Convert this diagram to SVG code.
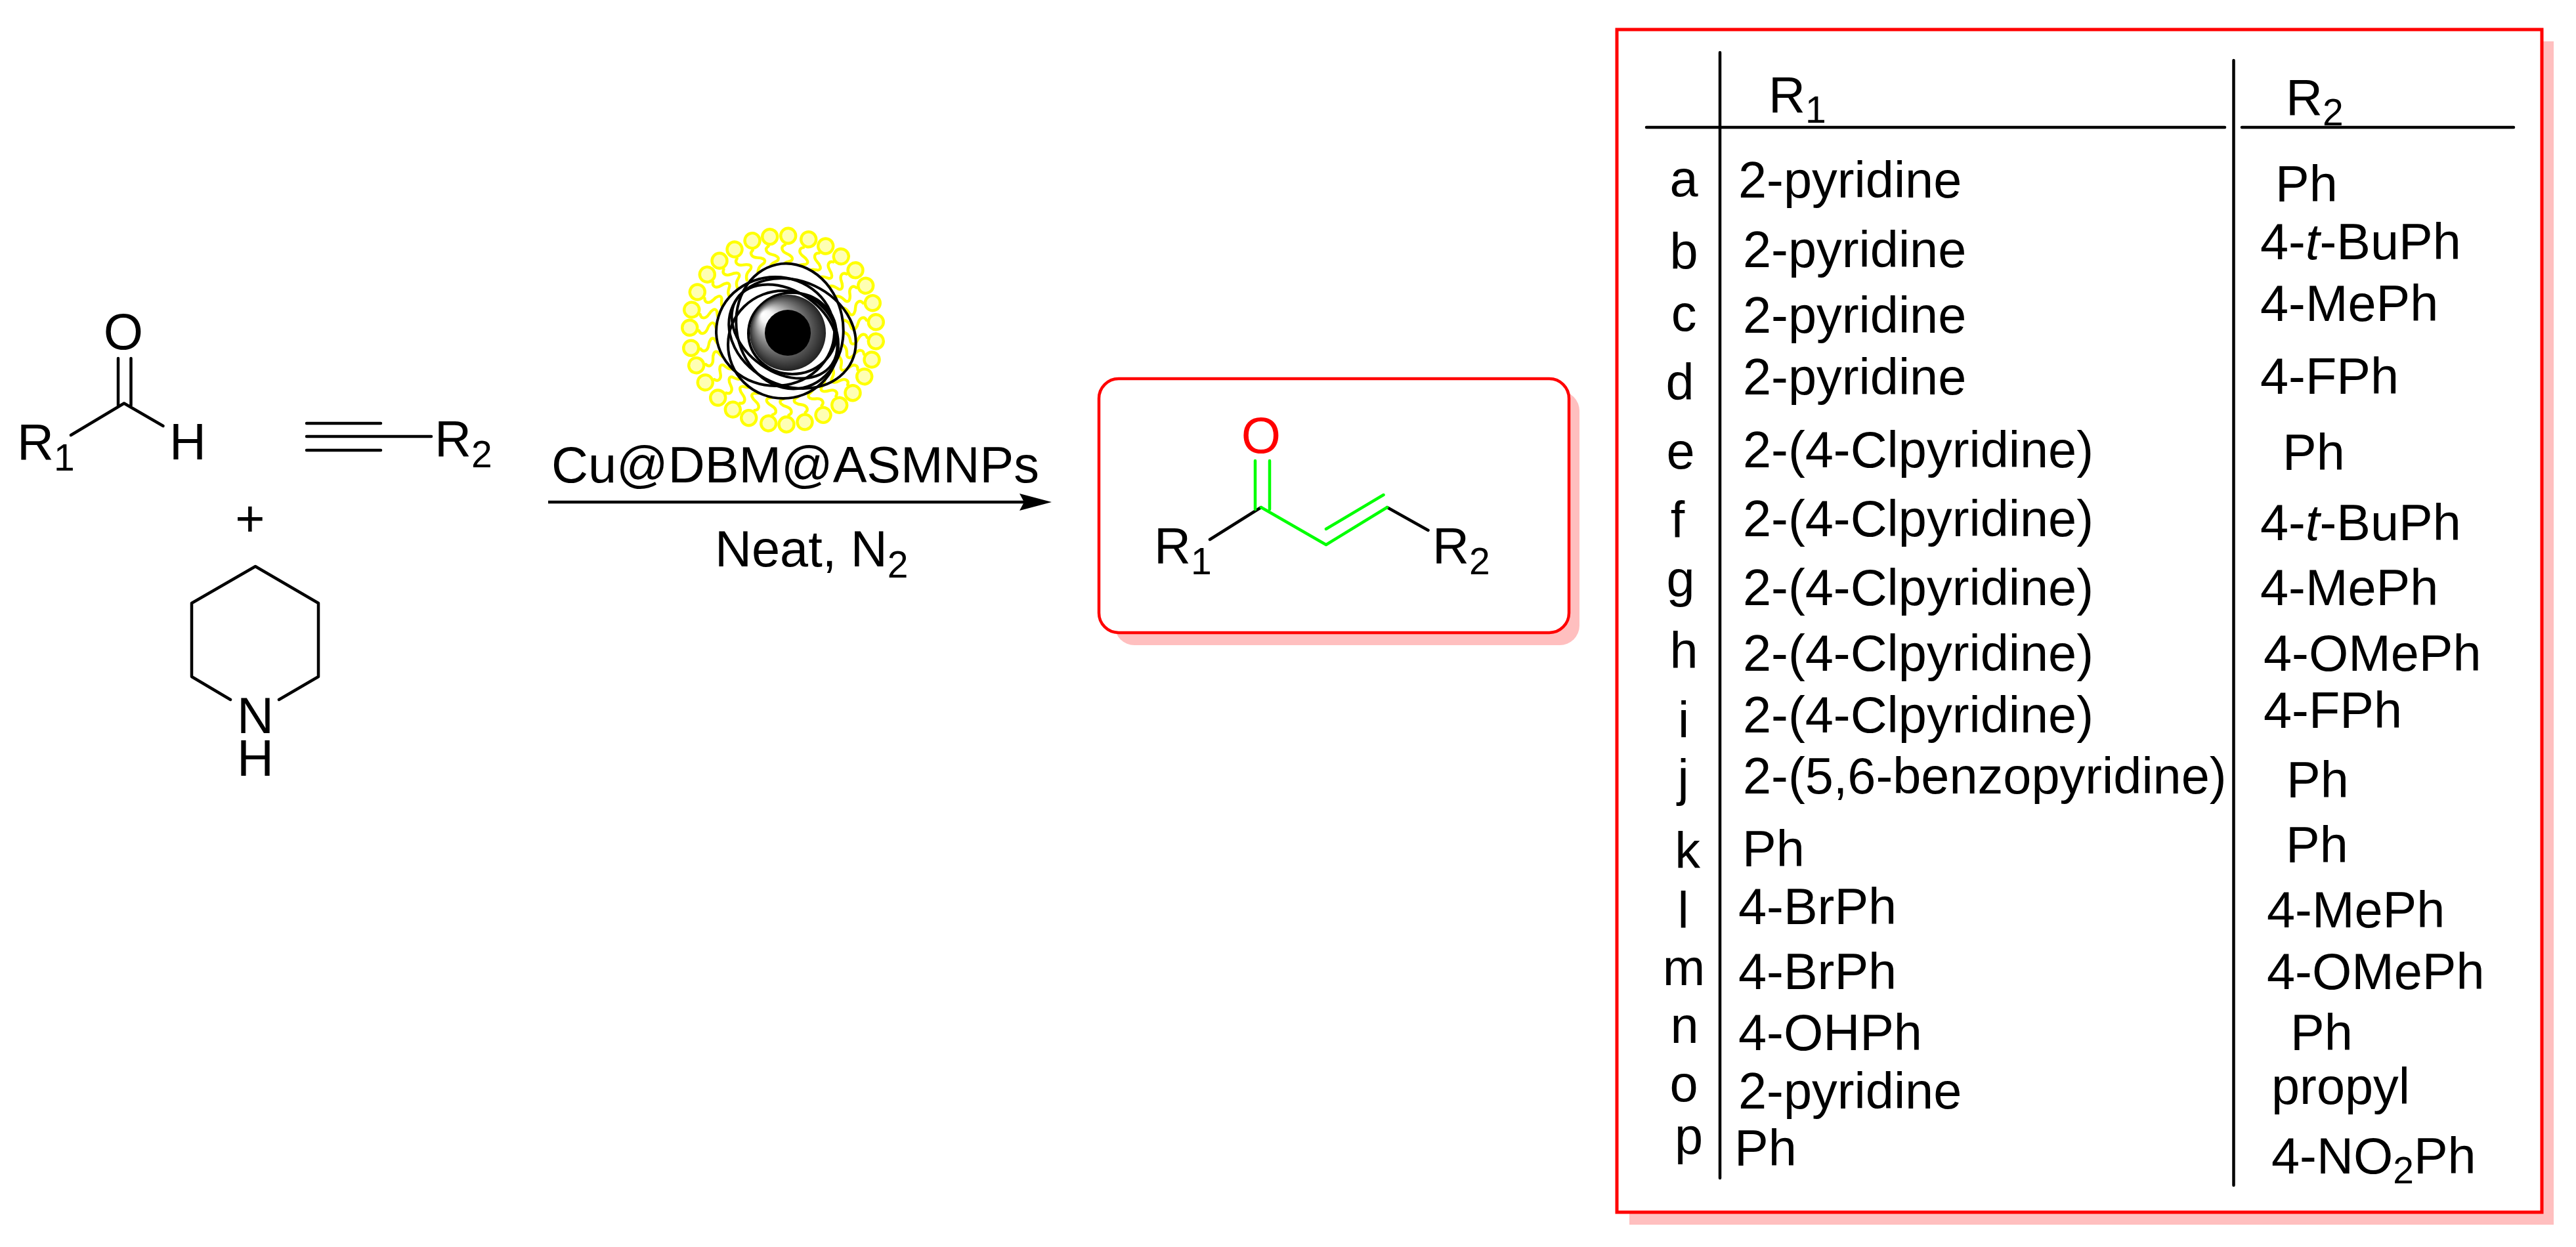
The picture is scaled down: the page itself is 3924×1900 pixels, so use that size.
<svg xmlns="http://www.w3.org/2000/svg" width="3924" height="1900" viewBox="0 0 3924 1900">
<style>
text{font-family:"Liberation Sans",Arial,sans-serif;font-size:77.5px;fill:#000}
.m{text-anchor:middle}
.b{fill:none;stroke:#000;stroke-width:4.500;stroke-linecap:round;stroke-linejoin:round}
.g{fill:none;stroke:#00ff00;stroke-width:4.500;stroke-linecap:round;stroke-linejoin:round}
.r{stroke:#000;stroke-width:4.500;stroke-linecap:round}
.s{fill:#ffbfbf}
.e{fill:none;stroke:#000;stroke-width:4}
.sub{font-size:57px}
</style>
<defs>
<radialGradient id="sphere" cx="0.5" cy="0.5" r="0.5" fx="0.17" fy="0.25">
<stop offset="0" stop-color="#fff"/><stop offset="0.15" stop-color="#f4f4f4"/><stop offset="0.55" stop-color="#8a8a8a"/><stop offset="1" stop-color="#222"/>
</radialGradient>
<g id="lipid">
<path d="M14,4C17,11 24,9 27,1C29,-5 34,-12 38,-6C40,-1 40,5 50,8" fill="none" stroke="#ffff00" stroke-width="4.400" stroke-linecap="round"/>
<circle r="11.5" fill="#ffffb3" stroke="#ffff00" stroke-width="4.400"/>
</g>
<marker id="head" markerUnits="userSpaceOnUse" markerWidth="50" markerHeight="26" refX="7" refY="13" orient="auto">
<path d="M0,0L49,13L0,26L7,13Z" fill="#000"/>
</marker>
</defs>
<rect width="3924" height="1900" fill="#fff"/>

<g id="aldehyde">
<path class="b" d="M108,663L189,614.500L248.500,649M180,546V618M199.500,546V618"/>
<text x="188" y="532" class="m">O</text>
<text x="26" y="700">R<tspan class="sub" dy="17">1</tspan></text>
<text x="258" y="700">H</text>
</g>
<g id="alkyne">
<path class="b" d="M467,645H580M467,665H657M467,686H580"/>
<text x="662" y="694.500">R<tspan class="sub" dy="17">2</tspan></text>
</g>
<g id="plus"><text x="381" y="817" class="m">+</text></g>
<g id="piperidine">
<path class="b" d="M351,1066L292,1031V919L389,863L485,919V1031L425,1066"/>
<text x="389" y="1117" class="m">N</text>
<text x="389" y="1182" class="m">H</text>
</g>

<g id="catalyst">
<use href="#lipid" transform="translate(1200.700,359.300) rotate(93.300)"/>
<use href="#lipid" transform="translate(1231.700,364.700) rotate(105.900)"/>
<use href="#lipid" transform="translate(1257.700,375) rotate(117)"/>
<use href="#lipid" transform="translate(1281.300,390.700) rotate(128.400)"/>
<use href="#lipid" transform="translate(1303,411.700) rotate(140.500)"/>
<use href="#lipid" transform="translate(1318.700,435.300) rotate(151.800)"/>
<use href="#lipid" transform="translate(1329.300,461.700) rotate(163.200)"/>
<use href="#lipid" transform="translate(1334.300,490.700) rotate(175)"/>
<use href="#lipid" transform="translate(1334.300,520) rotate(-173.200)"/>
<use href="#lipid" transform="translate(1328,548) rotate(-161.600)"/>
<use href="#lipid" transform="translate(1316.700,573.700) rotate(-150.400)"/>
<use href="#lipid" transform="translate(1299,598.700) rotate(-138.100)"/>
<use href="#lipid" transform="translate(1278.700,617.300) rotate(-127)"/>
<use href="#lipid" transform="translate(1254,632.300) rotate(-115.500)"/>
<use href="#lipid" transform="translate(1226,643) rotate(-103.500)"/>
<use href="#lipid" transform="translate(1198,646.700) rotate(-92.300)"/>
<use href="#lipid" transform="translate(1170.700,645) rotate(-81.300)"/>
<use href="#lipid" transform="translate(1140.700,636.700) rotate(-68.900)"/>
<use href="#lipid" transform="translate(1116.300,624) rotate(-57.900)"/>
<use href="#lipid" transform="translate(1093.700,606) rotate(-46.200)"/>
<use href="#lipid" transform="translate(1074.300,582.700) rotate(-34)"/>
<use href="#lipid" transform="translate(1060.700,556.700) rotate(-22.200)"/>
<use href="#lipid" transform="translate(1052.700,530.300) rotate(-11.100)"/>
<use href="#lipid" transform="translate(1050.700,499.300) rotate(1.500)"/>
<use href="#lipid" transform="translate(1053.700,472) rotate(12.600)"/>
<use href="#lipid" transform="translate(1062.300,445) rotate(24)"/>
<use href="#lipid" transform="translate(1077.300,418.300) rotate(36.400)"/>
<use href="#lipid" transform="translate(1096,397.300) rotate(47.600)"/>
<use href="#lipid" transform="translate(1119,380) rotate(59.200)"/>
<use href="#lipid" transform="translate(1146,366.700) rotate(71.200)"/>
<use href="#lipid" transform="translate(1172.700,360.700) rotate(82.100)"/>
<ellipse cx="1181" cy="505" rx="92" ry="83" fill="#fff"/>
<ellipse cx="1203" cy="497" rx="81" ry="96" fill="#fff" transform="rotate(-12 1203 497)"/>
<ellipse cx="1193" cy="525" rx="84" ry="82" fill="#fff"/>
<ellipse class="e" cx="1203" cy="497" rx="81" ry="96" transform="rotate(-12 1203 497)"/>
<ellipse class="e" cx="1181" cy="505" rx="90" ry="83"/>
<ellipse class="e" cx="1207" cy="508" rx="100" ry="80" transform="rotate(25 1207 508)"/>
<ellipse class="e" cx="1193" cy="525" rx="84" ry="82"/>
<ellipse class="e" cx="1195" cy="505" rx="88" ry="62" transform="rotate(35 1195 505)"/>
<ellipse class="e" cx="1207" cy="508" rx="67" ry="62"/>
<circle cx="1200" cy="507" r="58" fill="url(#sphere)"/>
<circle cx="1200" cy="507" r="35" fill="#000"/>
</g>

<g id="connectors">
<line x1="835" y1="765" x2="1560" y2="765" stroke="#000" stroke-width="4.500" marker-end="url(#head)"/>
</g>
<g id="conditions">
<text x="840" y="735">Cu@DBM@ASMNPs</text>
<text x="1089" y="863">Neat, N<tspan class="sub" dy="17">2</tspan></text>
</g>

<g id="product">
<rect class="s" x="1698" y="596" width="708" height="387" rx="30"/>
<rect x="1674" y="577" width="716" height="387" rx="30" fill="#fff" stroke="#ff0000" stroke-width="4.500"/>
<path class="b" d="M1843,822L1921,773M2113,773L2175.500,808"/>
<path class="g" d="M1921,773L2020,830L2113,773M2020,806L2107.500,754M1912,702V776M1934,702V776"/>
<text x="1921" y="690" class="m" style="fill:#ff0000">O</text>
<text x="1758" y="858">R<tspan class="sub" dy="17">1</tspan></text>
<text x="2182" y="858">R<tspan class="sub" dy="17">2</tspan></text>
</g>

<g id="table">
<rect class="s" x="2482" y="63" width="1408" height="1803"/>
<rect x="2463" y="45" width="1409" height="1802" fill="#fff" stroke="#ff0000" stroke-width="5"/>
<line class="r" x1="2620" y1="80" x2="2620" y2="1795"/>
<line class="r" x1="3402.500" y1="92" x2="3402.500" y2="1806"/>
<line class="r" x1="2508" y1="194" x2="3389" y2="194"/>
<line class="r" x1="3415" y1="194" x2="3829" y2="194"/>
<text x="2694" y="170.500">R<tspan class="sub" dy="16">1</tspan></text>
<text x="3482" y="175">R<tspan class="sub" dy="16">2</tspan></text>

<text class="m" x="2565" y="299">a</text><text x="2648" y="301">2-pyridine</text><text x="3466" y="307">Ph</text>
<text class="m" x="2565" y="409.500">b</text><text x="2655" y="407">2-pyridine</text><text x="3443" y="395">4-<tspan font-style="italic">t</tspan>-BuPh</text>
<text class="m" x="2565" y="504">c</text><text x="2655" y="507">2-pyridine</text><text x="3443" y="489">4-MePh</text>
<text class="m" x="2559" y="609">d</text><text x="2655" y="600.500">2-pyridine</text><text x="3443" y="600">4-FPh</text>
<text class="m" x="2560" y="714">e</text><text x="2655" y="712">2-(4-Clpyridine)</text><text x="3477" y="716">Ph</text>
<text class="m" x="2555.500" y="819">f</text><text x="2655" y="817">2-(4-Clpyridine)</text><text x="3443" y="823">4-<tspan font-style="italic">t</tspan>-BuPh</text>
<text class="m" x="2560" y="909">g</text><text x="2655" y="922">2-(4-Clpyridine)</text><text x="3443" y="922">4-MePh</text>
<text class="m" x="2565" y="1018">h</text><text x="2655" y="1022">2-(4-Clpyridine)</text><text x="3448" y="1022">4-OMePh</text>
<text class="m" x="2564.500" y="1123.500">i</text><text x="2655" y="1116">2-(4-Clpyridine)</text><text x="3448" y="1109">4-FPh</text>
<text class="m" x="2564" y="1212">j</text><text x="2655" y="1209">2-(5,6-benzopyridine)</text><text x="3483" y="1215">Ph</text>
<text class="m" x="2570.500" y="1323">k</text><text x="2654" y="1319.500">Ph</text><text x="3482" y="1314">Ph</text>
<text class="m" x="2564" y="1414">l</text><text x="2648" y="1407.500">4-BrPh</text><text x="3453" y="1413">4-MePh</text>
<text class="m" x="2565" y="1501">m</text><text x="2648" y="1507">4-BrPh</text><text x="3453" y="1507">4-OMePh</text>
<text class="m" x="2566" y="1589">n</text><text x="2648" y="1600">4-OHPh</text><text x="3489" y="1600">Ph</text>
<text class="m" x="2565" y="1678">o</text><text x="2648" y="1689">2-pyridine</text><text x="3460" y="1682">propyl</text>
<text class="m" x="2572.500" y="1758">p</text><text x="2642" y="1776">Ph</text><text x="3460" y="1788">4-NO<tspan class="sub" dy="15">2</tspan><tspan dy="-15">Ph</tspan></text>
</g>
</svg>
